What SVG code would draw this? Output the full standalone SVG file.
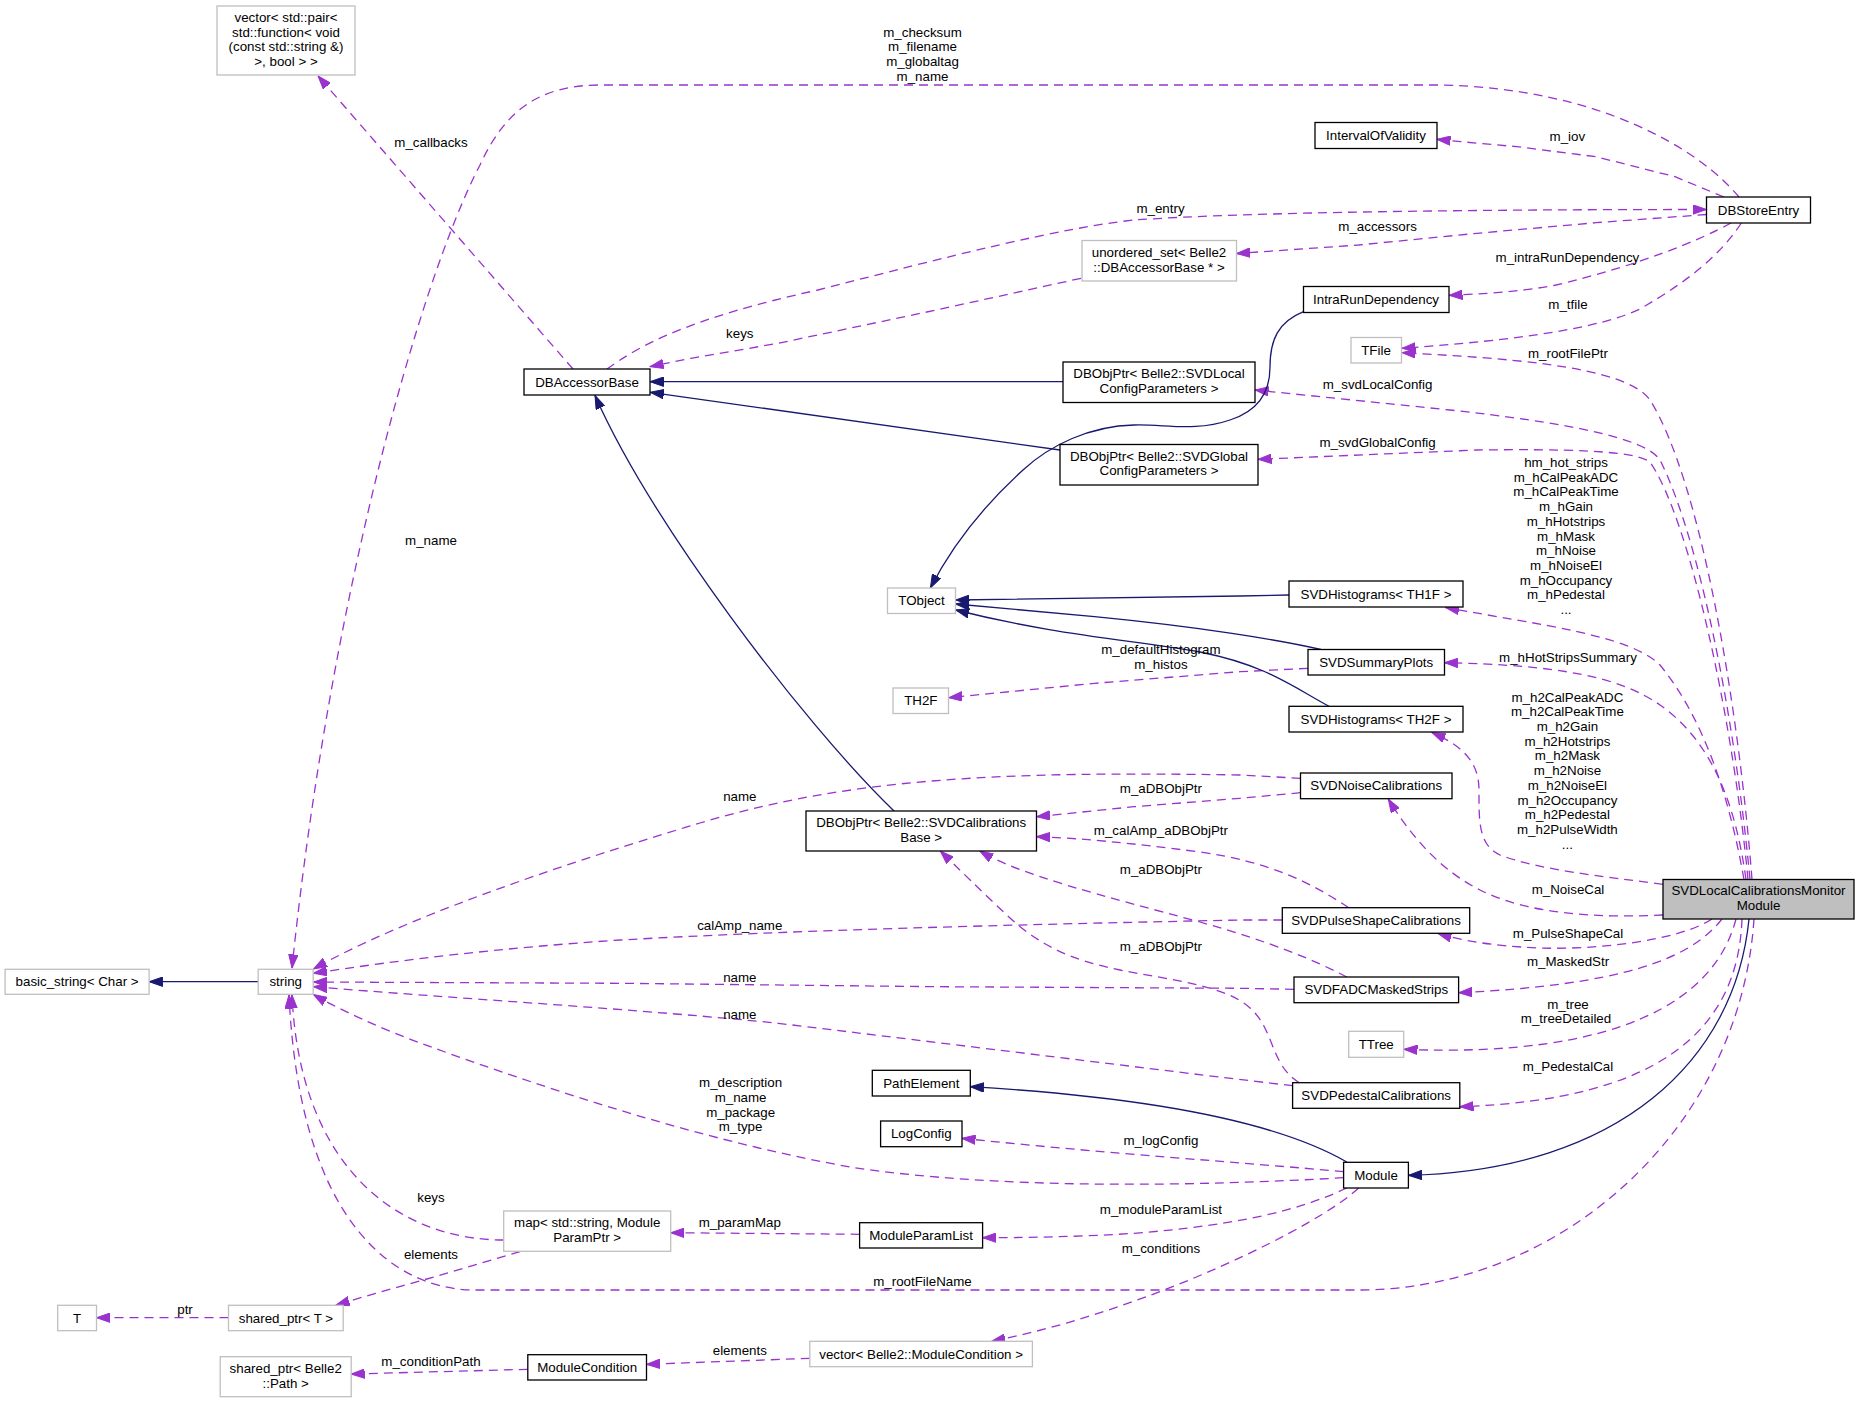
<svg xmlns="http://www.w3.org/2000/svg" width="1859" height="1403" viewBox="0 0 1859 1403">
<style>
text{font-family:"Liberation Sans",Arial,Helvetica,sans-serif;font-size:13.33px;fill:#000;text-anchor:middle}
.nd rect{fill:#fff;stroke:#000;stroke-width:1.3}
.gr rect{fill:#fff;stroke:#bfbfbf;stroke-width:1.3}
.rt rect{fill:#bfbfbf;stroke:#000;stroke-width:1.3}
.e{fill:none;stroke:#9a32cd;stroke-width:1.3;stroke-dasharray:9,6;stroke-linejoin:round;marker-end:url(#ap)}
.i{fill:none;stroke:#191970;stroke-width:1.3;stroke-linejoin:round;marker-end:url(#ab)}
</style>
<defs>
<marker id="ap" viewBox="0 0 14 10" refX="13.5" refY="5" markerWidth="14" markerHeight="10" markerUnits="userSpaceOnUse" orient="auto"><path d="M0,0.3 L13.5,5 L0,9.7 z" fill="#9a32cd" stroke="#9a32cd" stroke-width="1"/></marker>
<marker id="ab" viewBox="0 0 14 10" refX="13.5" refY="5" markerWidth="14" markerHeight="10" markerUnits="userSpaceOnUse" orient="auto"><path d="M0,0.3 L13.5,5 L0,9.7 z" fill="#191970" stroke="#191970" stroke-width="1"/></marker>
</defs>
<rect width="1859" height="1403" fill="#fff"/>
<g id="connectors">
<path class="e" d="M573,369 L318,76"/>
<path class="e" d="M1739,197 C1700,150 1600,88 1440,85 L600,85 C540,85 505,110 480,165 C420,280 330,600 292,968"/>
<path class="e" d="M1724,197 L1675,176.7 L1596,156.7 L1517,146.7 L1461,141.7 L1437,139.3"/>
<path class="e" d="M607,369 C640,345 690,318 818,290 C950,256 1060,228 1134,220 C1250,212 1477,209.5 1706.5,209.5"/>
<path class="e" d="M1706.5,214.5 L1596,222.7 L1477,233.3 L1358.6,245 L1236.5,253.5"/>
<path class="e" d="M1081,278.3 L936.3,310 L778.2,343.3 L691,358.3 L650,366.7"/>
<path class="e" d="M1731,223 C1700,240 1640,265 1556,285 C1520,292 1480,294 1449,295.3"/>
<path class="e" d="M1741.4,223 C1720,255 1690,280 1640,309 C1600,328 1520,340 1402,348.3"/>
<path class="e" d="M1752,879.5 C1738,700 1700,480 1650,400 C1625,365 1500,358 1402,352.7"/>
<path class="e" d="M1750,879.5 C1735,720 1700,540 1660,460 C1645,437 1560,422 1450,410 L1255,390"/>
<path class="e" d="M1748,879.5 C1733,720 1690,520 1650,462 C1635,450 1560,449 1477,450 L1258,459.3"/>
<path class="e" d="M1744,879.5 C1730,800 1705,720 1660,665 C1630,635 1540,625 1445.6,607.5"/>
<path class="e" d="M1746,879.5 C1735,800 1710,740 1660,705 C1620,677 1560,665 1444.4,662.7"/>
<path class="e" d="M1663,884.3 C1600,876 1540,870 1500,855 C1478,845 1479,820 1479,790 C1479,760 1460,745 1432,732.5"/>
<path class="e" d="M1663,915 C1600,918 1530,915 1480,890 C1440,870 1410,835 1388.3,799"/>
<path class="e" d="M1712,919 C1680,940 1600,950 1540,948 C1490,946 1460,940 1438,933.5"/>
<path class="e" d="M1722,919 C1690,960 1620,985 1458.6,992.7"/>
<path class="e" d="M1736,919 C1715,1000 1620,1058 1404,1049.3"/>
<path class="e" d="M1742,919 C1738,1030 1660,1100 1460,1106.7"/>
<path class="i" d="M1749,919 C1735,1060 1620,1170 1408.4,1175.3"/>
<path class="e" d="M1754,919 C1740,1130 1560,1290 1358.6,1290 L474.5,1290 C400,1290 300,1230 289,995"/>
<path class="e" d="M503.7,1240 C400,1240 300,1170 292,995"/>
<path class="e" d="M520,1251.7 L435,1276.7 L375.6,1293.3 L336,1305"/>
<path class="e" d="M228.5,1317.7 L96.5,1317.7"/>
<path class="e" d="M527.8,1369.3 L351.1,1374"/>
<path class="e" d="M809.8,1358.3 L646.5,1364.3"/>
<path class="e" d="M1358.6,1188 C1320,1225 1150,1310 991.7,1341.3"/>
<path class="e" d="M1346.8,1188 C1300,1210 1240,1225 1134,1233.3 C1080,1237 1020,1237.7 982.6,1237.7"/>
<path class="e" d="M859.6,1234.3 L670.6,1232.7"/>
<path class="e" d="M1343.6,1171.7 C1250,1163 1100,1153 962,1138.3"/>
<path class="e" d="M1343.6,1177.7 C1200,1186 1000,1190 850,1167 C700,1140 550,1090 420,1043 C380,1028 340,1010 313.5,994.5"/>
<path class="i" d="M1346.8,1162 C1300,1135 1200,1100 970.3,1086.7"/>
<path class="e" d="M1292.6,1085.7 C1200,1075 1000,1050 778.2,1023.3 C650,1010 450,998 313.5,986.7"/>
<path class="e" d="M1294,989.3 L1240,988.3 L936.3,986.7 L620,983.3 L313.5,982"/>
<path class="e" d="M1282.3,920 L1240,920 C1000,925 800,930 620,940 C500,948 400,960 313.5,973.3"/>
<path class="e" d="M1300.5,778.3 L1240,775 C1000,771 850,778 700,823 C550,868 400,920 313.5,969"/>
<path class="e" d="M1300.5,792.7 L1240,798.3 L1134,806.7 L1036.5,816.7"/>
<path class="e" d="M1348.7,907.7 C1310,882 1270,862 1200,852 C1130,843 1080,838 1036.5,836.7"/>
<path class="e" d="M1346.8,977 C1310,958 1270,942 1200,922 C1100,895 1020,875 979.8,851"/>
<path class="e" d="M1299.3,1082.7 C1270,1065 1275,1030 1250,1008 C1225,985 1170,980 1120,970 C1070,960 1040,945 1010,918 C980,890 960,870 940.3,851"/>
<path class="e" d="M1308,668.3 L1240,671.7 L1094.5,683.3 L948.6,697.7"/>
<path class="i" d="M1063,381.7 L650,381.7"/>
<path class="i" d="M1060,450 L650.4,392.3"/>
<path class="i" d="M894,811 C800,720 650,520 595,395.5"/>
<path class="i" d="M1303.5,311.7 C1278,322 1270,340 1270,367 C1270,395 1255,412 1230,420 C1195,432 1165,424 1134,425 C1090,426 1050,445 1023,470 C990,500 955,540 930.4,588"/>
<path class="i" d="M1289,595 L1240,596 L955.7,600"/>
<path class="i" d="M1321,649.5 C1280,640 1200,627 1094.5,616.7 L955.7,604"/>
<path class="i" d="M1329,706.3 C1290,685 1265,665 1200,652 C1130,640 1050,634 955.7,610"/>
<path class="i" d="M258.2,981.7 L149.1,981.7"/>
<g id="labels">
<text x="431" y="147">m_callbacks</text>
<text x="922.5" y="36.6">m_checksum</text>
<text x="922.5" y="51">m_filename</text>
<text x="922.5" y="66">m_globaltag</text>
<text x="922.5" y="81">m_name</text>
<text x="1567.4" y="141">m_iov</text>
<text x="1160.5" y="213.3">m_entry</text>
<text x="1377.6" y="231">m_accessors</text>
<text x="739.8" y="337.6">keys</text>
<text x="1567.4" y="262">m_intraRunDependency</text>
<text x="1568" y="308.6">m_tfile</text>
<text x="1568" y="357.6">m_rootFilePtr</text>
<text x="1377.6" y="388.6">m_svdLocalConfig</text>
<text x="1377.6" y="447">m_svdGlobalConfig</text>
<text x="1566" y="467">hm_hot_strips</text>
<text x="1566" y="481.7">m_hCalPeakADC</text>
<text x="1566" y="496.4">m_hCalPeakTime</text>
<text x="1566" y="511.1">m_hGain</text>
<text x="1566" y="525.8">m_hHotstrips</text>
<text x="1566" y="540.5">m_hMask</text>
<text x="1566" y="555.2">m_hNoise</text>
<text x="1566" y="569.9">m_hNoiseEl</text>
<text x="1566" y="584.6">m_hOccupancy</text>
<text x="1566" y="599.3">m_hPedestal</text>
<text x="1566" y="614">...</text>
<text x="431" y="545">m_name</text>
<text x="1160.9" y="654.3">m_defaultHistogram</text>
<text x="1160.9" y="668.6">m_histos</text>
<text x="1568" y="662">m_hHotStripsSummary</text>
<text x="1567.4" y="701.6">m_h2CalPeakADC</text>
<text x="1567.4" y="716.3">m_h2CalPeakTime</text>
<text x="1567.4" y="731">m_h2Gain</text>
<text x="1567.4" y="745.7">m_h2Hotstrips</text>
<text x="1567.4" y="760.4">m_h2Mask</text>
<text x="1567.4" y="775.1">m_h2Noise</text>
<text x="1567.4" y="789.8">m_h2NoiseEl</text>
<text x="1567.4" y="804.5">m_h2Occupancy</text>
<text x="1567.4" y="819.2">m_h2Pedestal</text>
<text x="1567.4" y="833.9">m_h2PulseWidth</text>
<text x="1567.4" y="848.6">...</text>
<text x="739.8" y="801">name</text>
<text x="1160.9" y="792.6">m_aDBObjPtr</text>
<text x="1160.9" y="835">m_calAmp_aDBObjPtr</text>
<text x="1568" y="893.6">m_NoiseCal</text>
<text x="739.8" y="930">calAmp_name</text>
<text x="1568" y="938.3">m_PulseShapeCal</text>
<text x="1160.9" y="873.6">m_aDBObjPtr</text>
<text x="739.8" y="982">name</text>
<text x="1568" y="966">m_MaskedStr</text>
<text x="1160.9" y="951">m_aDBObjPtr</text>
<text x="1568" y="1008.6">m_tree</text>
<text x="1566" y="1023.3">m_treeDetailed</text>
<text x="739.8" y="1019.3">name</text>
<text x="1568" y="1071">m_PedestalCal</text>
<text x="740.6" y="1087">m_description</text>
<text x="740.6" y="1102">m_name</text>
<text x="740.6" y="1116.6">m_package</text>
<text x="740.6" y="1131">m_type</text>
<text x="1160.9" y="1145">m_logConfig</text>
<text x="1160.9" y="1213.6">m_moduleParamList</text>
<text x="431" y="1202">keys</text>
<text x="739.8" y="1227">m_paramMap</text>
<text x="1160.9" y="1252.6">m_conditions</text>
<text x="431" y="1259.3">elements</text>
<text x="922.5" y="1286">m_rootFileName</text>
<text x="185" y="1313.6">ptr</text>
<text x="739.8" y="1355">elements</text>
<text x="431" y="1366">m_conditionPath</text>
</g>
</g>
<g id="node_vector_pair" class="gr"><rect x="217" y="6" width="138" height="69"/><text x="286" y="22">vector&lt; std::pair&lt;</text><text x="286" y="36.7">std::function&lt; void</text><text x="286" y="51.4">(const std::string &amp;)</text><text x="286" y="66.1">&gt;, bool &gt; &gt;</text></g>
<g id="node_DBAccessorBase" class="nd"><rect x="524" y="369" width="126" height="26"/><text x="587" y="386.5">DBAccessorBase</text></g>
<g id="node_DBStoreEntry" class="nd"><rect x="1706.5" y="197" width="104" height="26"/><text x="1758.5" y="214.5">DBStoreEntry</text></g>
<g id="node_IntervalOfValidity" class="nd"><rect x="1315" y="122.5" width="122" height="26"/><text x="1376" y="140">IntervalOfValidity</text></g>
<g id="node_unordered_set" class="gr"><rect x="1082" y="240.5" width="154.5" height="40.5"/><text x="1159" y="257.3">unordered_set&lt; Belle2</text><text x="1159" y="272">::DBAccessorBase * &gt;</text></g>
<g id="node_IntraRunDependency" class="nd"><rect x="1303.5" y="286.5" width="145.5" height="26"/><text x="1376" y="304">IntraRunDependency</text></g>
<g id="node_TFile" class="gr"><rect x="1351" y="337.5" width="50.5" height="25.5"/><text x="1376" y="354.7">TFile</text></g>
<g id="node_SVDLocalConfig" class="nd"><rect x="1063" y="362" width="192" height="40.5"/><text x="1159" y="378">DBObjPtr&lt; Belle2::SVDLocal</text><text x="1159" y="392.8">ConfigParameters &gt;</text></g>
<g id="node_SVDGlobalConfig" class="nd"><rect x="1060" y="444.5" width="198" height="40.5"/><text x="1159" y="460.5">DBObjPtr&lt; Belle2::SVDGlobal</text><text x="1159" y="475.2">ConfigParameters &gt;</text></g>
<g id="node_TObject" class="gr"><rect x="887.5" y="588" width="68" height="25.5"/><text x="921.5" y="605.2">TObject</text></g>
<g id="node_TH2F" class="gr"><rect x="893" y="688" width="55.5" height="25.5"/><text x="920.8" y="705.2">TH2F</text></g>
<g id="node_SVDHistogramsTH1F" class="nd"><rect x="1289" y="581" width="174" height="26"/><text x="1376" y="598.5">SVDHistograms&lt; TH1F &gt;</text></g>
<g id="node_SVDSummaryPlots" class="nd"><rect x="1308" y="649.5" width="136.5" height="25.5"/><text x="1376.2" y="666.7">SVDSummaryPlots</text></g>
<g id="node_SVDHistogramsTH2F" class="nd"><rect x="1289" y="706.3" width="174" height="25.7"/><text x="1376" y="723.6">SVDHistograms&lt; TH2F &gt;</text></g>
<g id="node_SVDNoiseCalibrations" class="nd"><rect x="1300.5" y="773" width="151.5" height="25.7"/><text x="1376.2" y="790.3">SVDNoiseCalibrations</text></g>
<g id="node_SVDCalibrationsBase" class="nd"><rect x="806" y="811" width="230.5" height="40"/><text x="921.2" y="827.2">DBObjPtr&lt; Belle2::SVDCalibrations</text><text x="921.2" y="842.2">Base &gt;</text></g>
<g id="node_SVDLocalCalibrationsMonitorModule" class="rt"><rect x="1663" y="879.5" width="191" height="39.5"/><text x="1758.5" y="895.2">SVDLocalCalibrationsMonitor</text><text x="1758.5" y="909.8">Module</text></g>
<g id="node_SVDPulseShapeCalibrations" class="nd"><rect x="1282.3" y="907.7" width="187.4" height="25.6"/><text x="1376" y="925">SVDPulseShapeCalibrations</text></g>
<g id="node_SVDFADCMaskedStrips" class="nd"><rect x="1294" y="977" width="164.6" height="25.7"/><text x="1376.3" y="994.3">SVDFADCMaskedStrips</text></g>
<g id="node_TTree" class="gr"><rect x="1348.7" y="1031.3" width="55" height="26"/><text x="1376.2" y="1048.8">TTree</text></g>
<g id="node_SVDPedestalCalibrations" class="nd"><rect x="1292.6" y="1082.7" width="167.2" height="25.6"/><text x="1376.2" y="1100">SVDPedestalCalibrations</text></g>
<g id="node_Module" class="nd"><rect x="1343.6" y="1162.3" width="64.8" height="25.7"/><text x="1376" y="1179.6">Module</text></g>
<g id="node_PathElement" class="nd"><rect x="872.3" y="1070.3" width="98" height="25.7"/><text x="921.3" y="1087.6">PathElement</text></g>
<g id="node_LogConfig" class="nd"><rect x="880.6" y="1121" width="81.4" height="25.7"/><text x="921.3" y="1138.3">LogConfig</text></g>
<g id="node_ModuleParamList" class="nd"><rect x="859.6" y="1222.7" width="123" height="25.3"/><text x="921.1" y="1239.8">ModuleParamList</text></g>
<g id="node_map" class="gr"><rect x="503.7" y="1211" width="167" height="40.3"/><text x="587.2" y="1227.2">map&lt; std::string, Module</text><text x="587.2" y="1241.8">ParamPtr &gt;</text></g>
<g id="node_vector_ModuleCondition" class="gr"><rect x="809.8" y="1341.3" width="222.6" height="25.4"/><text x="921.1" y="1358.5">vector&lt; Belle2::ModuleCondition &gt;</text></g>
<g id="node_ModuleCondition" class="nd"><rect x="527.8" y="1354.7" width="118.7" height="25.3"/><text x="587.2" y="1371.8">ModuleCondition</text></g>
<g id="node_shared_ptr_Path" class="gr"><rect x="220.2" y="1356.7" width="131" height="40"/><text x="285.7" y="1372.8">shared_ptr&lt; Belle2</text><text x="285.7" y="1387.8">::Path &gt;</text></g>
<g id="node_shared_ptr_T" class="gr"><rect x="228.5" y="1305.3" width="114.7" height="25.4"/><text x="285.9" y="1322.5">shared_ptr&lt; T &gt;</text></g>
<g id="node_T" class="gr"><rect x="57.7" y="1305.3" width="38.8" height="25.4"/><text x="77.1" y="1322.5">T</text></g>
<g id="node_string" class="gr"><rect x="258.2" y="969.3" width="55" height="25"/><text x="285.7" y="986.3">string</text></g>
<g id="node_basic_string" class="gr"><rect x="5.1" y="969.3" width="144" height="25"/><text x="77.1" y="986.3">basic_string&lt; Char &gt;</text></g>
</svg>
